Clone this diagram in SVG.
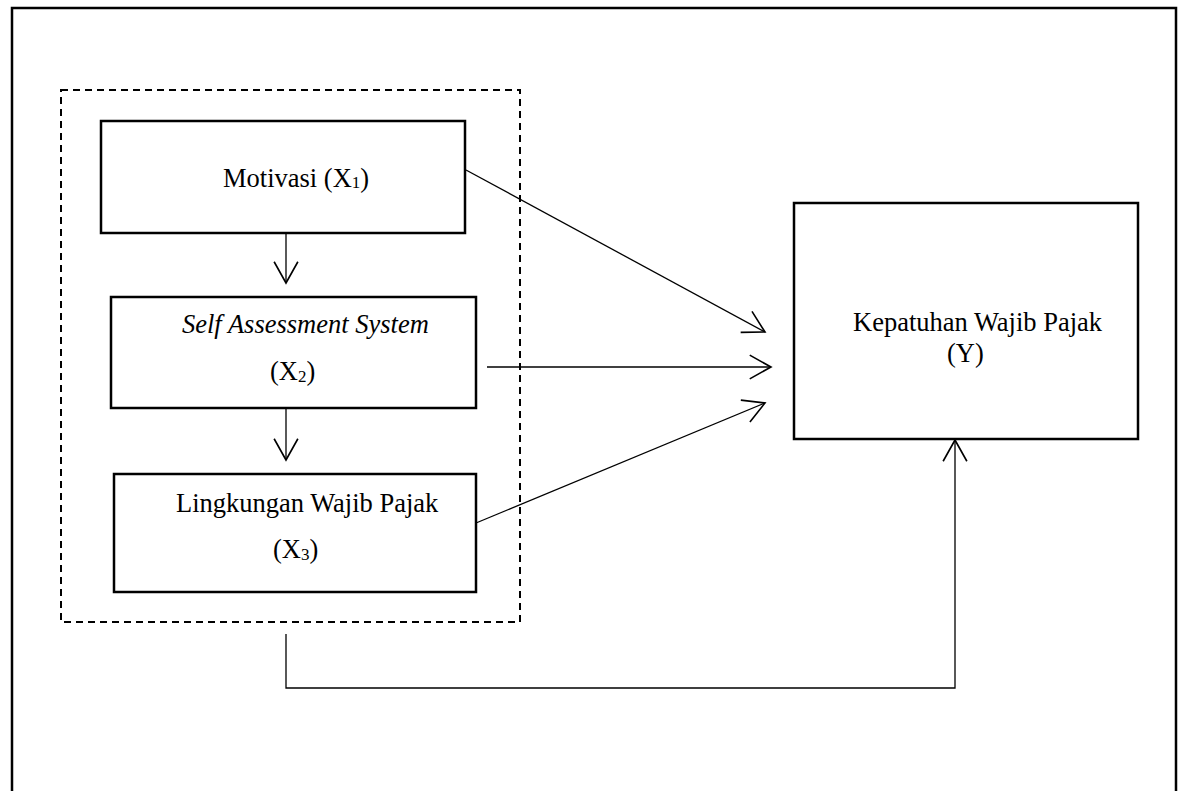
<svg xmlns="http://www.w3.org/2000/svg" width="1178" height="791" viewBox="0 0 1178 791">
<style>
.box{fill:#fff;stroke:#000;stroke-width:2.5}
.conn{fill:none;stroke:#000;stroke-width:1.3}
.t{font-family:"Liberation Serif","Times New Roman",serif;font-size:26.5px;fill:#000}
.it{font-style:italic}
.sub{font-size:17px}
</style>
<defs>
<marker id="arr" markerUnits="userSpaceOnUse" markerWidth="30" markerHeight="30" viewBox="-20 -12 24 24" refX="0" refY="0" orient="auto">
<path d="M-17,-9.5 L0,0 L-17,9.5" fill="none" stroke="#000" stroke-width="1.3"/>
</marker>
</defs>
<rect width="1178" height="791" fill="#fff"/>
<path id="frame" d="M12,791 V8 H1176 V791" fill="none" stroke="#000" stroke-width="2.5"/>
<rect id="group" x="61" y="90" width="459" height="532" fill="none" stroke="#000" stroke-width="2" stroke-dasharray="7,5"/>
<g id="connectors">
<line class="conn" x1="286" y1="233" x2="286" y2="283" marker-end="url(#arr)"/>
<line class="conn" x1="286" y1="408" x2="286" y2="460" marker-end="url(#arr)"/>
<line class="conn" x1="466" y1="170" x2="765" y2="332" marker-end="url(#arr)"/>
<line class="conn" x1="487" y1="367" x2="771" y2="367" marker-end="url(#arr)"/>
<line class="conn" x1="476" y1="523" x2="765" y2="403" marker-end="url(#arr)"/>
<path class="conn" d="M286,634 V688 H955 V440" marker-end="url(#arr)"/>
</g>
<g id="x1">
<rect class="box" x="101" y="121" width="364" height="112"/>
<text class="t" x="223" y="187">Motivasi (X<tspan class="sub" dy="1">1</tspan><tspan dy="-1">)</tspan></text>
</g>
<g id="x2">
<rect class="box" x="111" y="297" width="365" height="111"/>
<text class="t it" x="182" y="333">Self Assessment System</text>
<text class="t" x="270" y="380">(X<tspan class="sub" dy="2">2</tspan><tspan dy="-2">)</tspan></text>
</g>
<g id="x3">
<rect class="box" x="114" y="474" width="362" height="118"/>
<text class="t" x="176" y="512">Lingkungan Wajib Pajak</text>
<text class="t" x="273" y="558">(X<tspan class="sub" dy="2">3</tspan><tspan dy="-2">)</tspan></text>
</g>
<g id="y">
<rect class="box" x="794" y="203" width="344" height="236"/>
<text class="t" x="853" y="331">Kepatuhan Wajib Pajak</text>
<text class="t" x="947" y="362">(Y)</text>
</g>
</svg>
